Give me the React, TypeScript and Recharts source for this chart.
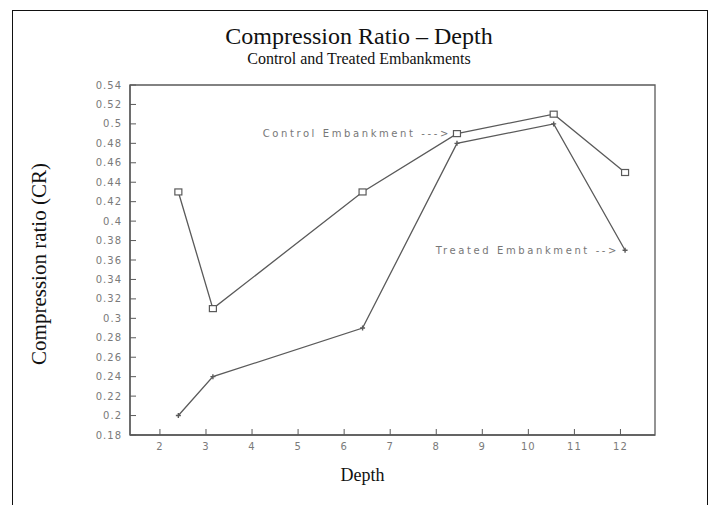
import { LineChart, Line, XAxis, YAxis, ReferenceArea } from 'recharts';

// depth (m) of each sampling point, and compression ratio of each embankment
const depth = [2.4, 3.15, 6.4, 8.45, 10.55, 12.1];
const controlCR = [0.43, 0.31, 0.43, 0.49, 0.51, 0.45];
const treatedCR = [0.2, 0.24, 0.29, 0.48, 0.5, 0.37];

const depthTicks = [2, 3, 4, 5, 6, 7, 8, 9, 10, 11, 12];
const depthRange = [1.35, 12.75];
const crTicks = [0.18, 0.2, 0.22, 0.24, 0.26, 0.28, 0.3, 0.32, 0.34, 0.36, 0.38, 0.4, 0.42, 0.44, 0.46, 0.48, 0.5, 0.52, 0.54];

const data = depth.map((d, i) => ({ depth: d, control: controlCR[i], treated: treatedCR[i] }));

const ink = '#5a5a5a';
const tickFont = { fontFamily: 'DejaVu Sans', fontSize: 10, fill: '#7a7a7a', letterSpacing: 1 };

const SquareDot = (props: any) => {
  const { cx, cy, index } = props;
  return (
    <rect key={`sq-${index}`} x={cx - 3.5} y={cy - 3} width={7} height={6} fill="#fff" stroke={ink} strokeWidth={1.2} />
  );
};

const PlusDot = (props: any) => {
  const { cx, cy, index } = props;
  return (
    <path key={`pl-${index}`} d={`M${cx - 2.5},${cy}h5M${cx},${cy - 2.5}v5`} stroke={ink} strokeWidth={1.4} fill="none" />
  );
};

// text + arrow pointing at one point of a series
const pointer = (text: string, at: number) => (props: any) => {
  const { x, y, index } = props;
  if (index !== at) return null;
  return (
    <text x={x - 6} y={y} dy={3.5} textAnchor="end" fontFamily="DejaVu Sans" fontSize={10} fill="#777" letterSpacing={2.6}>
      {text}
    </text>
  );
};

export default function App() {
  return (
    <div style={{ position: 'absolute', left: 0, top: 0, width: 718, height: 505, background: '#fff', overflow: 'hidden' }}>
      <div style={{ position: 'absolute', left: 12, top: 10, width: 694, height: 520, border: '1.5px solid #111' }} />
      <div style={{ position: 'absolute', left: 0, top: 23, width: 718, textAlign: 'center', fontFamily: 'Liberation Serif', fontSize: 24, color: '#111' }}>
        Compression Ratio – Depth
      </div>
      <div style={{ position: 'absolute', left: 0, top: 50, width: 718, textAlign: 'center', fontFamily: 'Liberation Serif', fontSize: 16, color: '#111' }}>
        Control and Treated Embankments
      </div>
      <div style={{ position: 'absolute', left: 0, top: 0 }}>
        <LineChart width={718} height={505} data={data} margin={{ top: 85, right: 63, bottom: 40, left: 70 }}>
          <ReferenceArea x1={depthRange[0]} x2={depthRange[1]} y1={0.18} y2={0.54} fill="none" stroke={ink} strokeWidth={1.3} />
          <XAxis
            dataKey="depth"
            type="number"
            domain={depthRange}
            ticks={depthTicks}
            interval={0}
            tickSize={-6}
            tickMargin={14}
            tick={tickFont}
            axisLine={{ stroke: ink, strokeWidth: 1.3 }}
            tickLine={{ stroke: ink }}
            height={30}
            label={{ value: 'Depth', position: 'insideBottom', offset: -16, dx: -30, fontFamily: 'Liberation Serif', fontSize: 18, fill: '#111' }}
          />
          <YAxis
            type="number"
            domain={[0.18, 0.54]}
            ticks={crTicks}
            interval={0}
            width={60}
            tickSize={-6}
            tickMargin={14}
            tick={tickFont}
            axisLine={{ stroke: ink, strokeWidth: 1.3 }}
            tickLine={{ stroke: ink }}
            label={{ value: 'Compression ratio (CR)', angle: -90, position: 'insideLeft', offset: -31, dy: 4, textAnchor: 'middle', fontFamily: 'Liberation Serif', fontSize: 21, fill: '#111' }}
          />
          <Line
            dataKey="control"
            stroke={ink}
            strokeWidth={1.3}
            dot={SquareDot}
            activeDot={false}
            label={pointer('Control Embankment --->', 3)}
            isAnimationActive={false}
          />
          <Line
            dataKey="treated"
            stroke={ink}
            strokeWidth={1.3}
            dot={PlusDot}
            activeDot={false}
            label={pointer('Treated Embankment -->', 5)}
            isAnimationActive={false}
          />
        </LineChart>
      </div>
    </div>
  );
}
